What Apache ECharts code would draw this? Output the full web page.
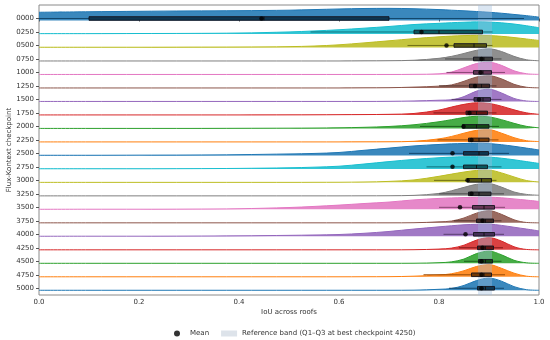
<!DOCTYPE html>
<html><head><meta charset="utf-8">
<script src="https://cdn.jsdelivr.net/npm/echarts@6/dist/echarts.min.js"></script>
<style>html,body{margin:0;padding:0;background:#fff}#c{width:550px;height:340px}</style>
</head><body><div id="c"></div>
<script>
const checkpoints = ['0000','0250','0500','0750','1000','1250','1500','1750','2000','2250','2500','2750','3000','3250','3500','3750','4000','4250','4500','4750','5000'];
const xTicks = [0, 0.2, 0.4, 0.6, 0.8, 1.0];
const gridX = [0, 0.1, 0.2, 0.3, 0.4, 0.5, 0.55, 0.6, 0.65, 0.7, 0.75, 0.8, 0.825, 0.85, 0.875, 0.9, 0.925, 0.95, 0.975, 1.0];
// relative density (peak = 1) at gridX for each checkpoint
const d0000 = [0.68,0.72,0.76,0.79,0.81,0.85,0.9,0.95,0.99,1.0,0.97,0.9,0.85,0.8,0.74,0.68,0.6,0.5,0.4,0.28];
const d0250 = [0.03,0.03,0.04,0.05,0.08,0.17,0.25,0.35,0.48,0.62,0.78,0.88,0.93,0.97,1.0,0.98,0.92,0.82,0.68,0.52];
const d0500 = [0.02,0.02,0.02,0.03,0.04,0.07,0.12,0.22,0.38,0.55,0.73,0.88,0.94,0.98,1.0,0.98,0.92,0.82,0.7,0.58];
const d0750 = [0,0,0,0,0,0,0,0,0.01,0.02,0.06,0.22,0.38,0.62,0.88,1.0,0.78,0.38,0.1,0.02];
const d1000 = [0,0,0,0,0,0,0,0,0,0,0.01,0.05,0.2,0.55,0.9,1.0,0.75,0.3,0.06,0.01];
const d1250 = [0,0,0,0,0,0,0,0,0.01,0.02,0.07,0.15,0.25,0.55,0.9,1.0,0.75,0.3,0.06,0.01];
const d1500 = [0,0,0,0,0,0,0,0,0,0.01,0.04,0.1,0.14,0.4,0.85,1.0,0.7,0.25,0.04,0];
const d1750 = [0,0,0,0,0,0.005,0.01,0.02,0.03,0.05,0.12,0.4,0.65,0.87,1.0,0.95,0.72,0.42,0.17,0.05];
const d2000 = [0,0,0,0,0.01,0.02,0.03,0.05,0.09,0.16,0.3,0.55,0.72,0.9,1.0,0.95,0.72,0.42,0.17,0.05];
const d2250 = [0,0,0,0,0,0,0,0,0.005,0.01,0.05,0.25,0.45,0.72,0.95,1.0,0.72,0.35,0.1,0.03];
const d2500 = [0.01,0.01,0.02,0.03,0.06,0.12,0.16,0.24,0.42,0.6,0.78,0.9,0.95,0.98,1.0,0.97,0.88,0.75,0.6,0.45];
const d2750 = [0.01,0.01,0.01,0.02,0.04,0.09,0.14,0.22,0.4,0.6,0.78,0.92,0.97,1.0,1.0,0.97,0.88,0.75,0.6,0.45];
const d3000 = [0,0,0,0,0,0,0.005,0.01,0.03,0.08,0.2,0.5,0.68,0.85,0.98,1.0,0.78,0.45,0.15,0.03];
const d3250 = [0,0,0,0,0,0,0,0,0.005,0.01,0.04,0.2,0.42,0.7,0.95,1.0,0.72,0.32,0.12,0.05];
const d3500 = [0.005,0.01,0.01,0.02,0.05,0.15,0.24,0.35,0.48,0.6,0.78,0.9,0.94,0.97,0.99,1.0,0.95,0.86,0.76,0.65];
const d3750 = [0,0,0,0,0,0,0,0,0,0,0.01,0.08,0.15,0.4,0.8,1.0,0.7,0.25,0.03,0];
const d4000 = [0.005,0.01,0.01,0.02,0.04,0.08,0.11,0.15,0.25,0.4,0.6,0.78,0.87,0.95,0.99,1.0,0.9,0.75,0.6,0.45];
const d4250 = [0,0,0,0,0,0,0,0,0,0,0.01,0.06,0.14,0.38,0.8,1.0,0.72,0.25,0.03,0];
const d4500 = [0,0,0,0,0,0,0,0,0,0,0.005,0.05,0.12,0.35,0.8,1.0,0.7,0.25,0.04,0];
const d4750 = [0,0,0,0,0,0,0,0,0.005,0.01,0.05,0.15,0.25,0.5,0.85,1.0,0.7,0.3,0.05,0];
const d5000 = [0,0,0,0,0,0,0,0,0,0,0.01,0.08,0.15,0.4,0.8,1.0,0.75,0.3,0.05,0];
const densities = [d0000,d0250,d0500,d0750,d1000,d1250,d1500,d1750,d2000,d2250,d2500,d2750,d3000,d3250,d3500,d3750,d4000,d4250,d4500,d4750,d5000];

const whiskerLow  = [0.00,0.543,0.737,0.812,0.815,0.80,0.825,0.789,0.762,0.797,0.74,0.775,0.79,0.80,0.80,0.83,0.809,0.84,0.85,0.769,0.82];
const q1          = [0.10,0.75,0.83,0.869,0.869,0.861,0.87,0.854,0.847,0.859,0.849,0.849,0.857,0.859,0.867,0.875,0.869,0.877,0.879,0.865,0.877];
const median      = [0.45,0.80,0.87,0.89,0.888,0.885,0.888,0.875,0.875,0.88,0.88,0.875,0.885,0.88,0.89,0.893,0.89,0.893,0.893,0.89,0.893];
const q3          = [0.70,0.887,0.895,0.907,0.905,0.901,0.903,0.897,0.90,0.90,0.899,0.897,0.905,0.904,0.911,0.909,0.911,0.909,0.907,0.905,0.911];
const whiskerHigh = [0.97,0.907,0.907,0.925,0.932,0.915,0.925,0.915,0.92,0.919,0.94,0.925,0.915,0.93,0.932,0.925,0.93,0.928,0.925,0.932,0.93];
const means       = [0.445,0.765,0.815,0.885,0.883,0.872,0.88,0.861,0.849,0.865,0.827,0.827,0.857,0.865,0.842,0.887,0.853,0.887,0.885,0.885,0.885];
const refBand = [0.878, 0.906];

const palette = ['#1f77b4','#17becf','#bcbd22','#7f7f7f','#e377c2','#8c564b','#9467bd','#d62728','#2ca02c','#ff7f0e'];
const FONT = 'DejaVu Sans';
const FS = 7;
const BASE_OFF = 0.15, RIDGE_H = 0.9;
const bandName = 'Reference band (Q1\u2013Q3 at best checkpoint 4250)';

function darken(hex, f){
  const n = parseInt(hex.slice(1),16);
  const r = Math.round(((n>>16)&255)*f), g = Math.round(((n>>8)&255)*f), b = Math.round((n&255)*f);
  return 'rgb('+r+','+g+','+b+')';
}

const series = [];
checkpoints.forEach((cp, i) => {
  const col = palette[i % 10];
  series.push({
    type: 'line', name: 'ridge' + cp, smooth: 0.35, showSymbol: false, silent: true,
    z: 2,
    data: gridX.map((x, k) => [x, i + BASE_OFF - densities[i][k] * RIDGE_H]),
    lineStyle: { color: col, width: 1 },
    areaStyle: { color: col, opacity: 0.88, origin: i + BASE_OFF },
    animation: false
  });
});

series.push({
  type: 'custom', name: bandName, z: 5, silent: true, animation: false,
  itemStyle: { color: 'rgba(150,180,215,0.35)' },
  data: [[refBand[0], refBand[1]]],
  renderItem: function(params, api){
    const p0 = api.coord([api.value(0), -1]);
    const p1 = api.coord([api.value(1), 20.5]);
    return { type: 'rect', shape: { x: p0[0], y: p0[1], width: p1[0]-p0[0], height: p1[1]-p0[1] },
      style: { fill: 'rgba(160,188,220,0.38)' } };
  }
});

series.push({
  type: 'custom', name: 'box', z: 6, silent: true, animation: false,
  data: checkpoints.map((cp, i) => [i, whiskerLow[i], q1[i], median[i], q3[i], whiskerHigh[i]]),
  renderItem: function(params, api){
    const i = api.value(0);
    const col = palette[i % 10];
    const lo = api.coord([api.value(1), i]);
    const a = api.coord([api.value(2), i]);
    const m = api.coord([api.value(3), i]);
    const b = api.coord([api.value(4), i]);
    const hi = api.coord([api.value(5), i]);
    const h = 3.6;
    return { type: 'group', children: [
      { type: 'line', shape: { x1: lo[0], y1: lo[1], x2: hi[0], y2: hi[1] }, style: { stroke: darken(col, 0.6), lineWidth: 1 } },
      { type: 'rect', shape: { x: a[0], y: a[1]-h/2, width: b[0]-a[0], height: h }, style: { fill: darken(col, 0.45), stroke: 'rgba(20,20,30,0.9)', lineWidth: 1 } },
      { type: 'line', shape: { x1: m[0], y1: m[1]-h/2, x2: m[0], y2: m[1]+h/2 }, style: { stroke: '#111', lineWidth: 1 } }
    ]};
  }
});

series.push({
  type: 'scatter', name: 'Mean', z: 8, silent: true, animation: false,
  symbol: 'circle', symbolSize: 4.5,
  itemStyle: { color: '#000' },
  data: means.map((m, i) => [m, i])
});

const chart = echarts.init(document.getElementById('c'), null, { renderer: 'canvas' });
chart.setOption({
  animation: false,
  textStyle: { fontFamily: FONT },
  grid: { left: 39, right: 11, top: 5, bottom: 45, containLabel: false, outerBoundsMode: 'none',
    show: true, borderColor: '#8a8a8a', borderWidth: 1, backgroundColor: 'transparent' },
  xAxis: {
    type: 'value', min: 0, max: 1, interval: 0.2,
    name: 'IoU across roofs', nameLocation: 'middle', nameGap: 14, nameMoveOverlap: false,
    nameTextStyle: { fontSize: FS, color: '#333', fontFamily: FONT },
    axisLine: { show: false }, splitLine: { show: false },
    axisTick: { show: true, length: 3, lineStyle: { color: '#555' } },
    axisLabel: { fontSize: FS, color: '#333', margin: 4, fontFamily: FONT,
      formatter: v => xTicks.some(t => Math.abs(t - v) < 1e-9) ? v.toFixed(1) : '' }
  },
  yAxis: {
    type: 'value', min: -1, max: 20.5, interval: 1, inverse: true,
    name: 'Flux-Kontext checkpoint', nameLocation: 'middle', nameGap: 26, nameMoveOverlap: false,
    nameTextStyle: { fontSize: FS, color: '#333', fontFamily: FONT },
    axisLine: { show: false }, splitLine: { show: false },
    axisTick: { show: true, length: 3, lineStyle: { color: '#555' }, customValues: checkpoints.map((c, i) => i) },
    axisLabel: { fontSize: FS, color: '#333', margin: 5, fontFamily: FONT,
      customValues: checkpoints.map((c, i) => i),
      formatter: v => checkpoints[Math.round(v)] || '' }
  },
  legend: {
    bottom: 3, left: 174, padding: 0, itemGap: 12, itemWidth: 16, itemHeight: 6,
    textStyle: { fontSize: FS, color: '#333', fontFamily: FONT },
    data: [
      { name: 'Mean', icon: 'circle', itemStyle: { color: '#000' } },
      { name: bandName, icon: 'rect', itemStyle: { color: '#dde3ea' } }
    ]
  },
  series: series
});
</script></body></html>
